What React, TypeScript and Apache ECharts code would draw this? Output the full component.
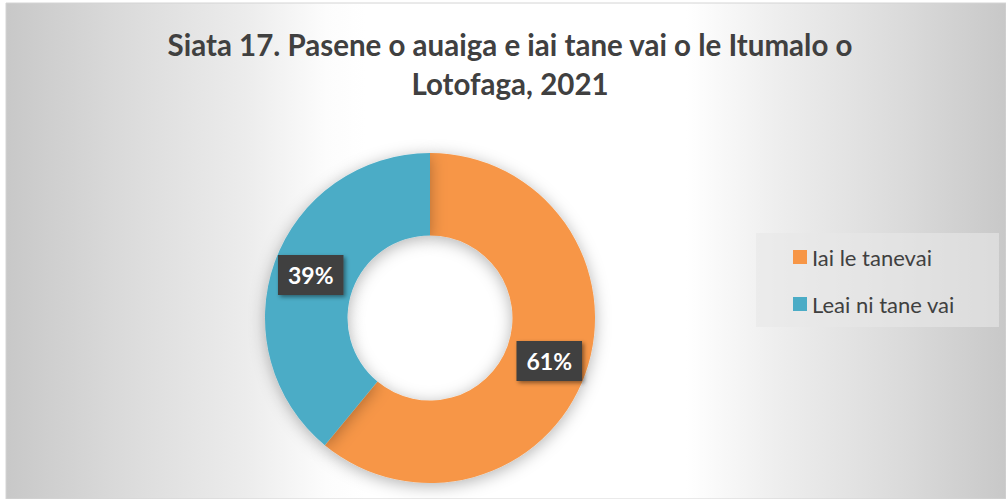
import React, { useEffect, useRef } from "react";
import * as echarts from "echarts";

const titleLines = ["Siata 17. Pasene o auaiga e iai tane vai o le Itumalo o", "Lotofaga, 2021"];
const categories = ["Iai le tanevai", "Leai ni tane vai"];
const values = [61, 39];
const colors = ["#F79646", "#4BACC6"];

export default function App() {
  const ref = useRef<HTMLDivElement>(null);
  useEffect(() => {
    document.body.style.margin = "0";
    if (!ref.current) return;
    const chart = echarts.init(ref.current, undefined, { renderer: "svg" });
    const bg = new echarts.graphic.LinearGradient(0, 0, 1, 0, [
      { offset: 0, color: "#c8c8c8" },
      { offset: 0.14, color: "#dedede" },
      { offset: 0.24, color: "#ececec" },
      { offset: 0.32, color: "#fcfcfc" },
      { offset: 0.36, color: "#ffffff" },
      { offset: 0.68, color: "#ffffff" },
      { offset: 0.77, color: "#eeeeee" },
      { offset: 0.9, color: "#dadada" },
      { offset: 1, color: "#c8c8c8" },
    ]);
    chart.setOption({
      animation: false,
      graphic: {
        elements: [
          {
            type: "rect",
            z: -100,
            silent: true,
            shape: { x: 6, y: 3, width: 1000, height: 496 },
            style: { fill: bg, stroke: "#d4d4d4", lineWidth: 1 },
          },
        ],
      },
      title: {
        text: titleLines.join("\n"),
        left: 505,
        textAlign: "center",
        top: 20,
        textStyle: {
          fontFamily: "Lato",
          fontSize: 29.5,
          fontWeight: "bold",
          color: "#404040",
          lineHeight: 39,
        },
      },
      legend: {
        orient: "vertical",
        left: 756,
        top: 233,
        padding: [13, 41, 12, 37],
        itemGap: 25,
        itemWidth: 14,
        itemHeight: 14,
        icon: "rect",
        backgroundColor: "rgba(231,231,231,0.6)",
        data: categories,
        textStyle: {
          fontFamily: "Lato",
          fontSize: 22,
          color: "#404040",
          lineHeight: 22,
          width: 146,
        },
      },
      series: [
        {
          type: "pie",
          center: [430, 318],
          radius: [82.5, 165],
          startAngle: 90,
          clockwise: true,
          avoidLabelOverlap: false,
          itemStyle: {
            borderWidth: 0,
            shadowBlur: 16,
            shadowOffsetY: 3,
            shadowColor: "rgba(0,0,0,0.3)",
          },
          label: {
            show: true,
            position: "inside",
            formatter: "{c}%",
            color: "#ffffff",
            fontFamily: "Lato",
            fontWeight: "bold",
            fontSize: 23,
            lineHeight: 24,
            backgroundColor: "#404040",
            padding: [8, 10, 8, 10],
            shadowColor: "rgba(0,0,0,0.45)",
            shadowBlur: 4,
            shadowOffsetX: 2,
            shadowOffsetY: 2,
          },
          labelLine: { show: false },
          emphasis: { disabled: true },
          data: categories.map((name, i) => ({
            name,
            value: values[i],
            itemStyle: { color: colors[i] },
          })),
        },
      ],
    });
    return () => chart.dispose();
  }, []);
  return <div ref={ref} style={{ width: 1006, height: 499 }} />;
}
